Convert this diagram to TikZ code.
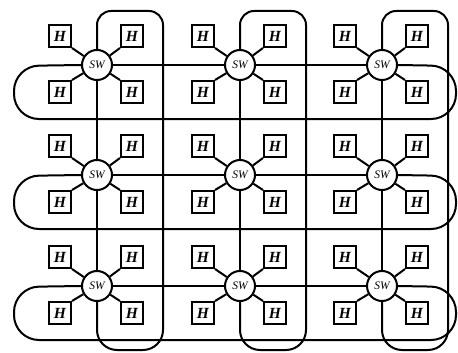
\documentclass[tikz,border=0pt]{standalone}
\usepackage{fontspec}
\setmainfont{Liberation Serif}
\begin{document}
\begin{tikzpicture}[x=1pt,y=-1pt,
  wire/.style={line width=2pt},
  swnode/.style={circle,draw,line width=2pt,fill=white,minimum size=30pt,inner sep=0pt,font=\fontsize{11.5}{12}\selectfont\itshape},
  hostbox/.style={rectangle,draw,line width=2pt,fill=white,minimum size=22pt,inner sep=0pt,font=\fontsize{15.5}{16}\selectfont\bfseries\itshape}]
\useasboundingbox (0,0) rectangle (458,353);
\foreach \i/\y in {1/65,2/175,3/286}{
  \foreach \j/\x in {1/97,2/240,3/382}{
    \node[swnode] (sw\i\j) at (\x,\y) {SW};
    \node[hostbox] (ha\i\j) at (\x-37,\y-29) {H};
    \node[hostbox] (hb\i\j) at (\x+35,\y-29) {H};
    \node[hostbox] (hc\i\j) at (\x-37,\y+27) {H};
    \node[hostbox] (hd\i\j) at (\x+35,\y+27) {H};
    \draw[wire] (sw\i\j) -- (ha\i\j.south east);
    \draw[wire] (sw\i\j) -- (hb\i\j.south west);
    \draw[wire] (sw\i\j) -- (hc\i\j.north east);
    \draw[wire] (sw\i\j) -- (hd\i\j.north west);
  }
}
% row rings
\foreach \i/\y in {1/65,2/175,3/286}{
  \draw[wire] (sw\i1) -- (sw\i2) -- (sw\i3);
  \draw[wire,rounded corners=25pt] (sw\i1.west) -- (14,\y+1) -- (14,\y+54) -- (456,\y+54) -- (456,\y+1) -- (sw\i3.east);
}
% column rings
\foreach \j/\x in {1/97,2/240,3/382}{
  \draw[wire] (sw1\j) -- (sw2\j) -- (sw3\j);
  \draw[wire,rounded corners=14pt] (sw1\j.north) -- (\x,11) -- (\x+66,11) [rounded corners=20pt] -- (\x+66,350) -- (\x,350) -- (sw3\j.south);
}
\end{tikzpicture}
\end{document}
